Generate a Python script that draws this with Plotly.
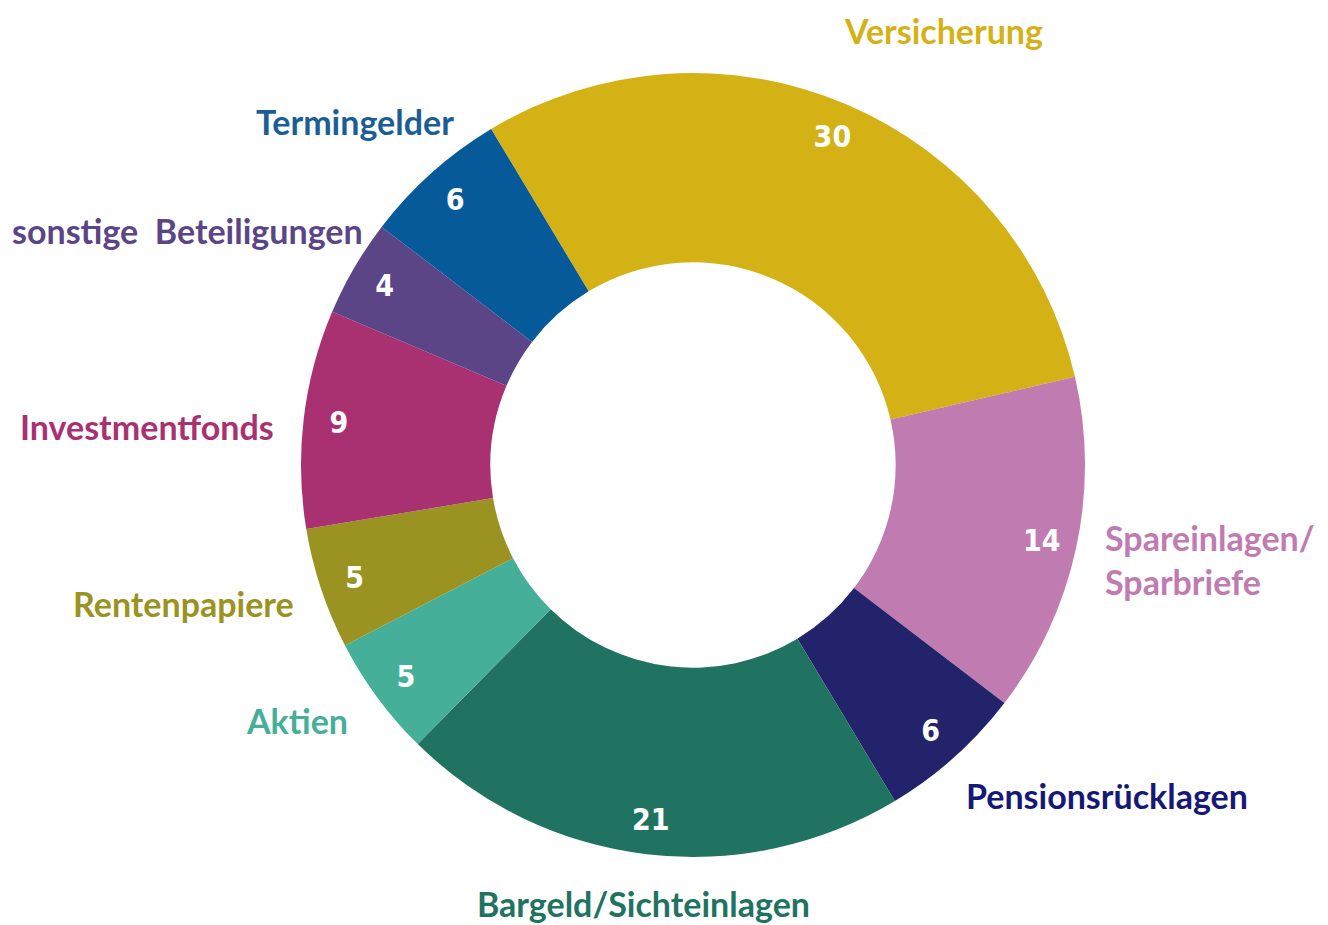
"""Donut chart: Geldvermögen nach Anlageformen."""
import plotly.graph_objects as go

# data (clockwise from Versicherung)
categories = ["Versicherung", "Spareinlagen/<br>Sparbriefe", "Pensionsrücklagen",
              "Bargeld/Sichteinlagen", "Aktien", "Rentenpapiere",
              "Investmentfonds", "sonstige  Beteiligungen", "Termingelder"]
values = [30, 14, 6, 21, 5, 5, 9, 4, 6]

slice_colors = ["#D4B216", "#C07BB1", "#22236B", "#207360", "#45AF99",
                "#9A9322", "#A93171", "#5B4586", "#065A99"]
label_colors = ["#D4B216", "#C07BB1", "#161877", "#207360", "#45AF99",
                "#9A9322", "#A93171", "#5B4586", "#1B5E96"]

# label anchors in window pixels (x, y from top) and alignment
label_pos = [(943, 30, "center"), (1103, 559, "left"), (1107, 795, "center"),
             (643, 903, "center"), (297, 720, "center"), (183, 603, "center"),
             (147, 426, "center"), (187, 230, "center"), (355, 122, "center")]

# the page body has an 8px margin, so work in window pixels and shift
OFF = 8
W, H = 1328 - OFF, 925 - OFF
cx, cy, R = 693 - OFF, 465 - OFF, 392
domain = dict(x=[(cx - R) / W, (cx + R) / W],
              y=[(H - cy - R) / H, (H - cy + R) / H])

fig = go.Figure()

# coloured ring
fig.add_trace(go.Pie(
    labels=categories, values=values, sort=False, direction="clockwise",
    rotation=-31, hole=0.517, domain=domain,
    marker=dict(colors=slice_colors, line=dict(width=0)),
    textinfo="none", hoverinfo="label+value", showlegend=False,
))

# transparent outer ring that carries the value texts
fig.add_trace(go.Pie(
    labels=categories, values=values, sort=False, direction="clockwise",
    rotation=-31, hole=0.82, domain=domain,
    marker=dict(colors=["rgba(0,0,0,0)"] * len(values), line=dict(width=0)),
    textinfo="value", textposition="inside", insidetextorientation="horizontal",
    textfont=dict(family="DejaVu Sans Condensed, Liberation Sans Narrow, Liberation Sans",
                  size=30, color="white", weight=700),
    hoverinfo="skip", showlegend=False,
))

for name, col, (x, y, align) in zip(categories, label_colors, label_pos):
    fig.add_annotation(
        x=(x - OFF) / W, y=1 - (y - OFF) / H, xref="paper", yref="paper",
        text=name, showarrow=False, align=align,
        xanchor="left" if align == "left" else "center", yanchor="middle",
        font=dict(family="Lato, Noto Sans", size=34, color=col, weight=700),
    )

fig.update_layout(
    width=W, height=H,
    margin=dict(l=0, r=0, t=0, b=0),
    paper_bgcolor="white", plot_bgcolor="white",
)

fig.write_html("out.html")
